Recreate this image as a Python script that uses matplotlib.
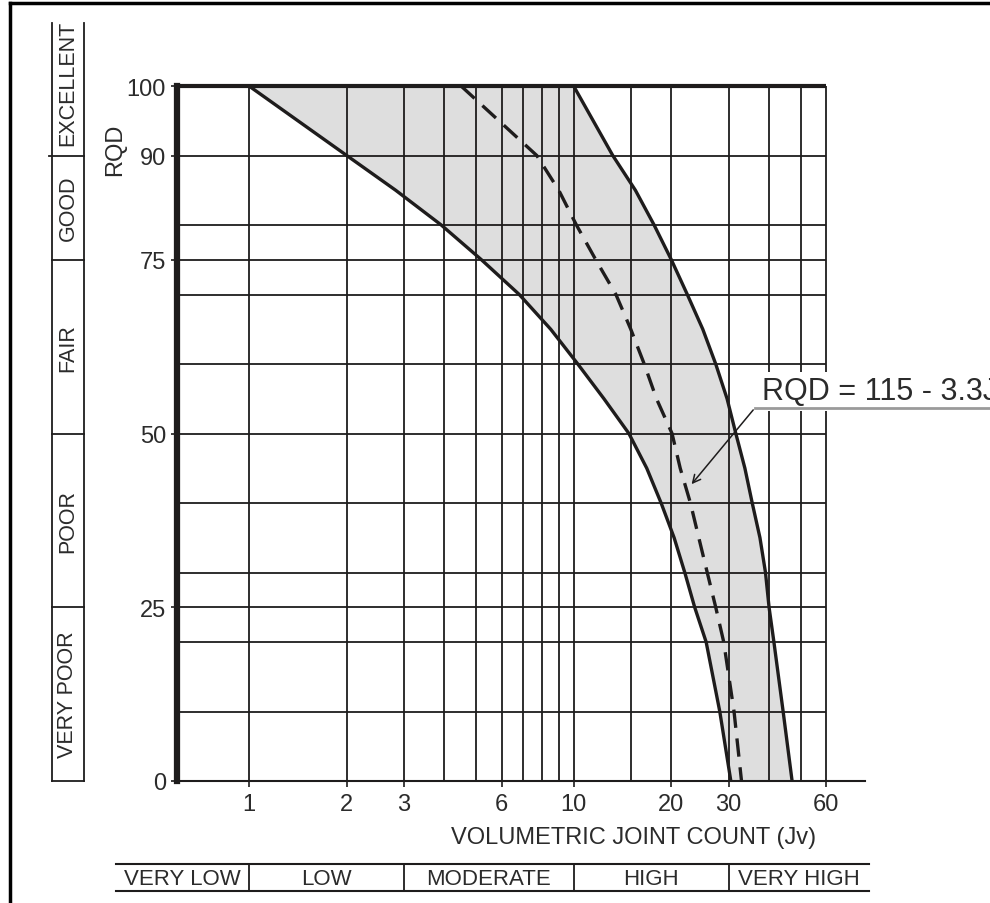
import matplotlib.pyplot as plt
import matplotlib.transforms as mtransforms
from matplotlib.lines import Line2D

plt.rcParams['font.family'] = ['Liberation Sans', 'DejaVu Sans']

# curves (RQD level -> Jv)
rqd_levels = [100, 90, 85, 80, 75, 70, 65, 60, 55, 50, 45, 40, 35, 30, 25, 20, 10, 0]
jv_lower = [1.0, 2.0, 2.83, 3.91, 5.2, 6.8, 8.5, 10.3, 12.4, 14.8, 16.8, 18.6, 20.4, 22.0, 23.6, 25.6, 28.2, 30.5]
jv_upper = [10.0, 13.2, 15.5, 17.7, 20.0, 22.4, 25.0, 27.4, 29.7, 31.6, 33.7, 35.5, 37.5, 39.0, 40.0, 41.4, 44.2, 47.1]
jv_dashed = [4.5, 7.7, 9.0, 10.2, 11.7, 13.5, 15.0, 16.5, 18.0, 20.1, 21.3, 22.9, 24.3, 25.8, 27.4, 29.0, 31.2, 32.9]

# grid / ticks
jv_grid = [1, 2, 3, 4, 5, 6, 7, 8, 9, 10, 15, 20, 30, 40, 50, 60]
rqd_grid = [10, 20, 25, 30, 40, 50, 60, 70, 75, 80, 90]
x_ticks = [1, 2, 3, 6, 10, 20, 30, 60]
y_ticks = [0, 25, 50, 75, 90, 100]

# quality classes (left) and joint count classes (bottom)
rqd_classes = ["VERY POOR", "POOR", "FAIR", "GOOD", "EXCELLENT"]
rqd_bounds = [0, 25, 50, 75, 90, 109]
jv_classes = ["VERY LOW", "LOW", "MODERATE", "HIGH", "VERY HIGH"]
jv_bounds = [0.39, 1, 3, 10, 30, 81]

ink = '#1e1c1c'
txt = '#2b2b2b'

fig = plt.figure(figsize=(9.9, 9.04), dpi=100)
ax = fig.add_axes([177/990, 1-782/904, (865-177)/990, (782-87)/904])
ax.set_xscale('log')
ax.set_xlim(0.6, 79)
ax.set_ylim(0, 100)

# shaded band
ax.fill_betweenx(rqd_levels, jv_lower, jv_upper, color='#dedede', zorder=0, lw=0)

# grid
ax.vlines(jv_grid, 0, 100, color=ink, lw=1.3, zorder=1)
ax.hlines(rqd_grid, 0.6, 60, color=ink, lw=1.3, zorder=1)
ax.plot([0.6, 60], [100, 100], color=ink, lw=3, clip_on=False, zorder=3, solid_capstyle='butt')

# curves
ax.plot(jv_lower, rqd_levels, color=ink, lw=2.4, zorder=2, solid_joinstyle='round')
ax.plot(jv_upper, rqd_levels, color=ink, lw=2.4, zorder=2, solid_joinstyle='round')
ax.plot(jv_dashed, rqd_levels, color=ink, lw=2.4, zorder=2, linestyle=(0, (5.5, 3.2)))

# spines and ticks
ax.spines['top'].set_visible(False)
ax.spines['right'].set_visible(False)
ax.spines['left'].set_linewidth(4.5)
ax.spines['left'].set_color(ink)
ax.spines['bottom'].set_linewidth(1.5)
ax.spines['bottom'].set_color(ink)
ax.set_xticks(x_ticks)
ax.set_xticklabels([str(v) for v in x_ticks])
ax.xaxis.set_minor_locator(plt.NullLocator())
ax.set_yticks(y_ticks)
ax.set_yticklabels([str(v) for v in y_ticks])
ax.tick_params(axis='both', direction='out', length=4, width=1.2, color=ink,
               labelsize=17, labelcolor=txt)
ax.tick_params(axis='x', pad=5)
ax.tick_params(axis='y', pad=4)

fig.text(634/990, 1-838/904, "VOLUMETRIC JOINT COUNT (Jv)", ha='center', va='center',
         fontsize=17, color=txt)
fig.text(115.5/990, 1-150/904, "RQD", rotation=90, ha='center', va='center',
         fontsize=17, color=txt)

# annotation for the dashed line
ax.annotate('', xy=(22.8, 42.4), xytext=(36.2, 53.7),
            arrowprops=dict(arrowstyle='->', lw=1.1, color=ink, mutation_scale=14), zorder=5)
ax.plot([36.2, 400], [53.7, 53.7], color='#9a9a9a', lw=2, clip_on=False, zorder=5)
ax.text(38.0, 54.9, "RQD = 115 - 3.3Jv", fontsize=22, color=txt, va='baseline', ha='left',
        zorder=4, clip_on=False,
        bbox=dict(facecolor='white', edgecolor='none', pad=3))

# left class strip
tl = mtransforms.blended_transform_factory(ax.transAxes, ax.transData)
x0 = (52-177)/688
x1 = (84-177)/688
for xx in [x0, x1]:
    ax.add_line(Line2D([xx, xx], [0, rqd_bounds[-1]], transform=tl, color=ink, lw=1.3, clip_on=False))
for b in rqd_bounds[:-1]:
    left = (49-177)/688 if b == 90 else x0
    ax.add_line(Line2D([left, x1], [b, b], transform=tl, color=ink, lw=1.3, clip_on=False))
for i, name in enumerate(rqd_classes):
    yc = (rqd_bounds[i] + rqd_bounds[i+1]) / 2
    if name == "EXCELLENT":
        yc = 100.5
    ax.text((68-177)/688, yc, name, transform=tl, rotation=90, ha='center', va='center',
            fontsize=15.5, color=txt, clip_on=False)

# bottom class strip
tb = mtransforms.blended_transform_factory(ax.transData, ax.transAxes)
y0 = (782-865)/695
y1 = (782-892)/695
for yy in [y0, y1]:
    ax.add_line(Line2D([jv_bounds[0], jv_bounds[-1]], [yy, yy], transform=tb, color=ink, lw=1.5, clip_on=False))
for b in jv_bounds[1:-1]:
    ax.add_line(Line2D([b, b], [y0, y1], transform=tb, color=ink, lw=1.3, clip_on=False))
for i, name in enumerate(jv_classes):
    xc = (jv_bounds[i] * jv_bounds[i+1]) ** 0.5
    ax.text(xc, (782-880)/695, name, transform=tb, ha='center', va='center',
            fontsize=16, color=txt, clip_on=False)

# outer frame (top and left only, picture is cropped)
fig.add_artist(Line2D([10/990, 10/990], [0, 1-4/904], transform=fig.transFigure, color='black', lw=2.5))
fig.add_artist(Line2D([10/990, 1], [1-4/904, 1-4/904], transform=fig.transFigure, color='black', lw=2.5))

fig.savefig('out.png', dpi=100)
